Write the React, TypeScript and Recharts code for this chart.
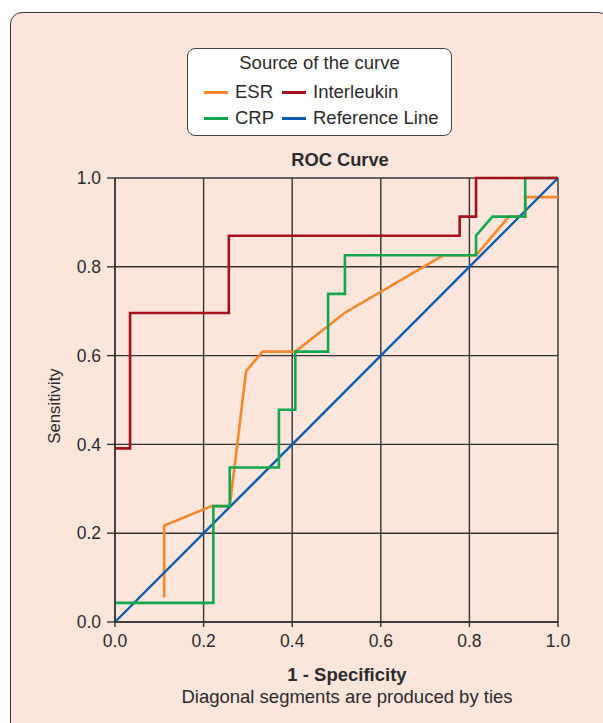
import React from "react";
import { LineChart, Line, XAxis, YAxis, CartesianGrid } from "recharts";

const ticks = [0, 0.2, 0.4, 0.6, 0.8, 1.0];

const esrX = [0.111, 0.111, 0.218, 0.259, 0.296, 0.333, 0.407, 0.518, 0.741, 0.815, 0.889, 0.926, 0.926, 1.0];
const esrY = [0.055, 0.217, 0.261, 0.261, 0.565, 0.609, 0.609, 0.696, 0.826, 0.826, 0.913, 0.913, 0.957, 0.957];

const crpX = [0, 0.222, 0.222, 0.259, 0.259, 0.37, 0.37, 0.407, 0.407, 0.481, 0.481, 0.519, 0.519, 0.815, 0.815, 0.852, 0.926, 0.926, 1.0];
const crpY = [0.043, 0.043, 0.261, 0.261, 0.348, 0.348, 0.478, 0.478, 0.609, 0.609, 0.739, 0.739, 0.826, 0.826, 0.87, 0.913, 0.913, 1.0, 1.0];

const ilX = [0, 0.034, 0.034, 0.257, 0.257, 0.778, 0.778, 0.815, 0.815, 1.0];
const ilY = [0.391, 0.391, 0.696, 0.696, 0.87, 0.87, 0.913, 0.913, 1.0, 1.0];

const refX = [0, 1];
const refY = [0, 1];

const zip = (xs: number[], ys: number[]) => xs.map((x, i) => ({ x, y: ys[i] }));

const esrData = zip(esrX, esrY);
const crpData = zip(crpX, crpY);
const ilData = zip(ilX, ilY);
const refData = zip(refX, refY);

const C_ESR = "#f5882c";
const C_IL = "#a3121c";
const C_CRP = "#12a64f";
const C_REF = "#0b5cae";
const BG = "#fce5db";
const FONT = "'Liberation Sans', Arial, sans-serif";
const TXT = "#2b2b2b";

const legendItems = [
  { name: "ESR", color: C_ESR, x: 204, y: 92 },
  { name: "Interleukin", color: C_IL, x: 282, y: 92 },
  { name: "CRP", color: C_CRP, x: 204, y: 118 },
  { name: "Reference Line", color: C_REF, x: 282, y: 118 },
];

export default function App() {
  return (
    <div style={{ position: "absolute", left: 0, top: 0, width: 603, height: 723, overflow: "hidden", background: "#fff", fontFamily: FONT }}>
      <div
        style={{
          position: "absolute",
          left: 10,
          top: 12,
          width: 600,
          height: 760,
          boxSizing: "border-box",
          border: "1.5px solid #3a3a3a",
          borderRadius: 12,
          background: BG,
        }}
      />
      <div
        style={{
          position: "absolute",
          left: 187,
          top: 48,
          width: 265,
          height: 88,
          boxSizing: "border-box",
          border: "1.2px solid #444",
          borderRadius: 8,
          background: "#fff",
        }}
      />
      <div style={{ position: "absolute", left: 187, width: 265, top: 52, height: 22, lineHeight: "22px", textAlign: "center", fontSize: 18.5, color: TXT }}>
        Source of the curve
      </div>
      {legendItems.map((it) => (
        <div key={it.name} style={{ position: "absolute", left: it.x, top: it.y - 11, height: 22, lineHeight: "22px", fontSize: 18.5, color: TXT, whiteSpace: "nowrap", display: "flex", alignItems: "center" }}>
          <span style={{ display: "inline-block", width: 24, height: 3, background: it.color, marginRight: 7 }} />
          <span>{it.name}</span>
        </div>
      ))}
      <div style={{ position: "absolute", left: 240, width: 200, top: 149, height: 22, lineHeight: "22px", textAlign: "center", fontSize: 18.3, fontWeight: "bold", color: TXT }}>
        ROC Curve
      </div>
      <div style={{ position: "absolute", left: 55, top: 406, width: 0, height: 0 }}>
        <div style={{ position: "absolute", left: -60, top: -11, width: 120, height: 22, lineHeight: "22px", textAlign: "center", fontSize: 16.8, color: TXT, transform: "rotate(-90deg)" }}>
          Sensitivity
        </div>
      </div>
      <div style={{ position: "absolute", left: 147, width: 400, top: 664, height: 22, lineHeight: "22px", textAlign: "center", fontSize: 18.5, fontWeight: "bold", color: TXT }}>
        1 - Specificity
      </div>
      <div style={{ position: "absolute", left: 147, width: 400, top: 686, height: 22, lineHeight: "22px", textAlign: "center", fontSize: 18.5, color: TXT }}>
        Diagonal segments are produced by ties
      </div>
      <div style={{ position: "absolute", left: 0, top: 0 }}>
        <LineChart width={603} height={723} margin={{ top: 178, right: 45, left: 55, bottom: 71 }}>
          <CartesianGrid stroke="#333" strokeWidth={1.4} horizontalValues={ticks} verticalValues={ticks} />
          <XAxis
            type="number"
            dataKey="x"
            domain={[0, 1]}
            ticks={ticks}
            tickFormatter={(v: number) => v.toFixed(1)}
            height={30}
            tickSize={5}
            tickMargin={8}
            stroke="#333"
            strokeWidth={1.4}
            tick={{ fill: TXT, fontSize: 17.5, fontFamily: FONT }}
            allowDuplicatedCategory={false}
          />
          <YAxis
            type="number"
            dataKey="y"
            domain={[0, 1]}
            ticks={ticks}
            tickFormatter={(v: number) => v.toFixed(1)}
            width={60}
            tickSize={8}
            tickMargin={6}
            stroke="#333"
            strokeWidth={1.4}
            tick={{ fill: TXT, fontSize: 17.5, fontFamily: FONT }}
          />
          <Line data={esrData} dataKey="y" type="linear" stroke={C_ESR} strokeWidth={2.6} dot={false} isAnimationActive={false} />
          <Line data={refData} dataKey="y" type="linear" stroke={C_REF} strokeWidth={2.4} dot={false} isAnimationActive={false} />
          <Line data={crpData} dataKey="y" type="linear" stroke={C_CRP} strokeWidth={2.6} dot={false} isAnimationActive={false} />
          <Line data={ilData} dataKey="y" type="linear" stroke={C_IL} strokeWidth={2.6} dot={false} isAnimationActive={false} />
        </LineChart>
      </div>
    </div>
  );
}
